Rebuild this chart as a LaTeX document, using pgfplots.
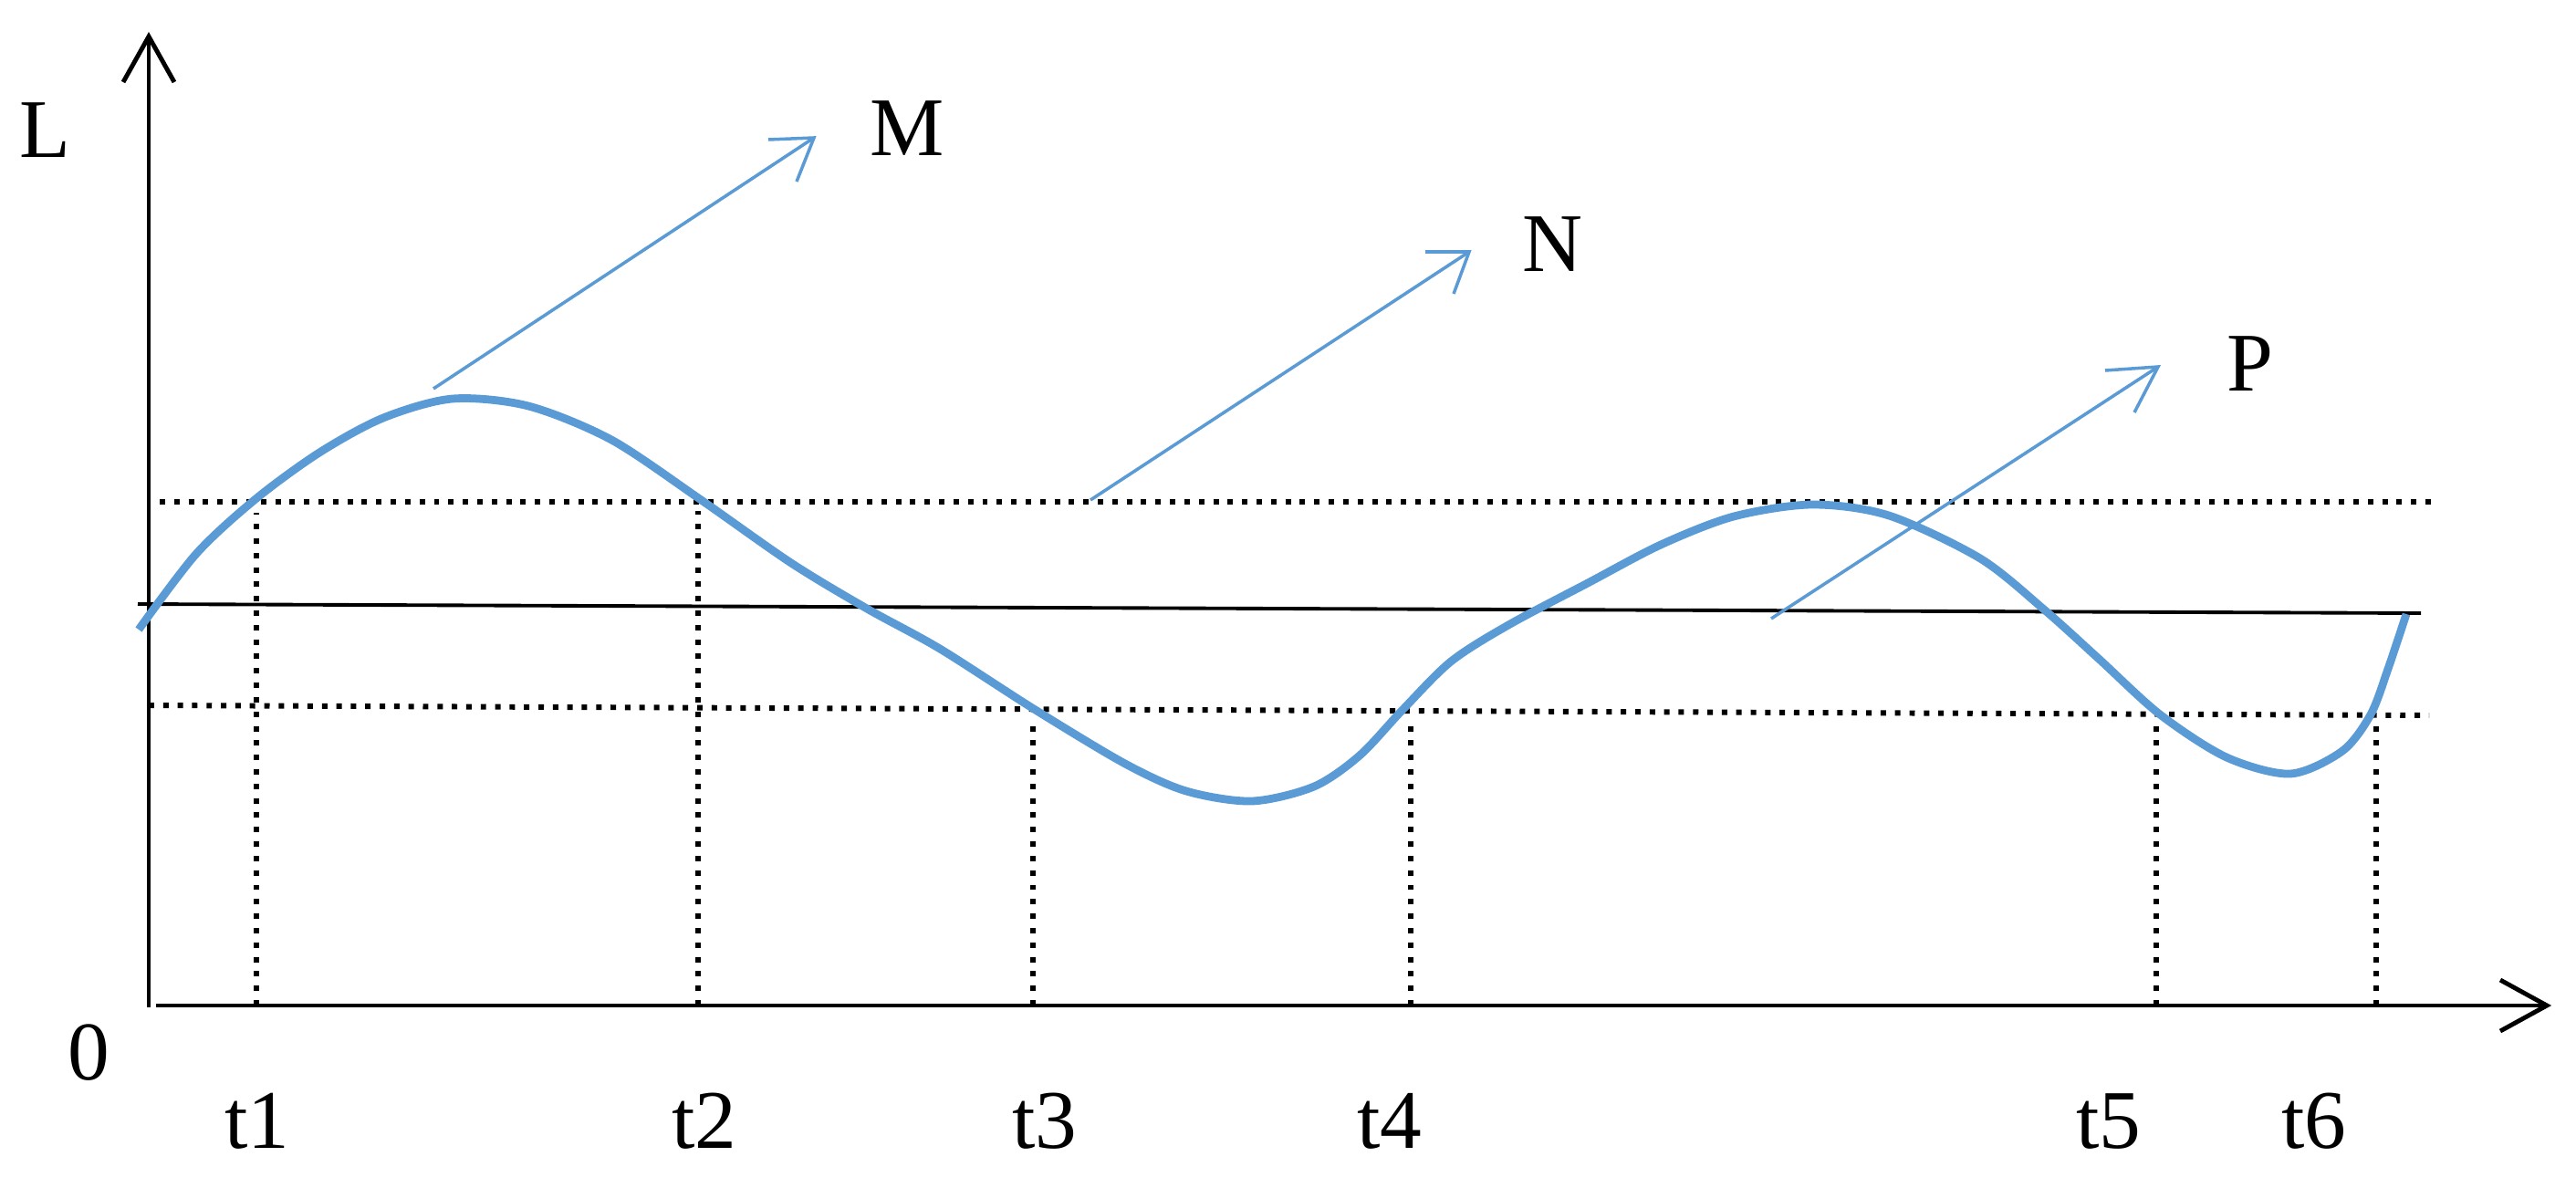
\documentclass[border=0pt]{standalone}
\usepackage{fontspec}
\setmainfont{Liberation Serif}
\usepackage{pgfplots}
\pgfplotsset{compat=1.18}

\definecolor{curveblue}{HTML}{5B9BD5}
\tikzset{lbl/.style={font=\fontsize{26}{30}\selectfont, anchor=base, inner sep=0pt}}
\pgfplotsset{dotln/.style={black, line width=1.7pt, dash pattern=on 1.7pt off 2.8pt}}

\begin{document}
\begin{tikzpicture}
\begin{axis}[
    scale only axis,
    width=28.23cm, height=13.02cm,
    xmin=0, xmax=2823, ymin=0, ymax=1302,
    y dir=reverse,
    hide axis,
    clip=false,
]
% page frame
\addplot[draw=none] coordinates {(0,0) (2823,1302)};

% axes
\addplot[black, line width=1.4pt] coordinates {(163,1104) (163,40)};
\addplot[black, line width=1.4pt, line join=miter] coordinates {(135,90) (163,40) (191,90)};
\addplot[black, line width=1.4pt] coordinates {(171,1102) (2791,1102)};
\addplot[black, line width=1.4pt, line join=miter] coordinates {(2740,1074) (2791,1102) (2740,1130)};

% reference levels
\addplot[black, line width=1.1pt] coordinates {(151,662) (2653,672)};
\addplot[dotln] coordinates {(175,550) (2673,550)};
\addplot[dotln] coordinates {(163,773) (2662,784)};

% drop lines
\addplot[dotln] coordinates {(281,1102) (281,562)};
\addplot[dotln] coordinates {(765,1102) (765,560)};
\addplot[dotln] coordinates {(1132,1102) (1132,792)};
\addplot[dotln] coordinates {(1546,1102) (1546,792)};
\addplot[dotln] coordinates {(2363,1102) (2363,796)};
\addplot[dotln] coordinates {(2604,1102) (2604,796)};

% curve
\addplot[curveblue, line width=2.5pt, smooth, line cap=butt] coordinates {
    (152,690) (215,607) (280,547) (350,496) (420,458) (496,437)
    (579,445) (670,482) (767,547) (867,617) (950,667) (1030,711)
    (1133,777) (1233,837) (1300,867) (1372,878) (1440,862) (1490,828)
    (1537,778) (1590,725) (1653,685) (1740,639) (1820,597) (1900,566)
    (1986,553) (2070,565) (2170,612) (2240,668) (2300,722)
    (2367,783) (2440,830) (2510,848) (2567,823) (2598,783) (2617,733) (2637,673)
};

% pointers
\addplot[curveblue, line width=1pt] coordinates {(475,426) (892,151)};
\addplot[curveblue, line width=1pt] coordinates {(842,153) (892,151) (873,199)};
\addplot[curveblue, line width=1pt] coordinates {(1195,548) (1610,276)};
\addplot[curveblue, line width=1pt] coordinates {(1562,276) (1610,276) (1593,322)};
\addplot[curveblue, line width=1pt] coordinates {(1941,678) (2365,402)};
\addplot[curveblue, line width=1pt] coordinates {(2307,406) (2365,402) (2339,452)};

% labels
\node[lbl] at (axis cs:49,172) {L};
\node[lbl] at (axis cs:97,1183) {0};
\node[lbl] at (axis cs:994,170) {M};
\node[lbl] at (axis cs:1701,297) {N};
\node[lbl] at (axis cs:2466,428) {P};
\node[lbl] at (axis cs:282,1258) {t1};
\node[lbl] at (axis cs:772,1258) {t2};
\node[lbl] at (axis cs:1145,1258) {t3};
\node[lbl] at (axis cs:1523,1258) {t4};
\node[lbl] at (axis cs:2311,1258) {t5};
\node[lbl] at (axis cs:2536,1258) {t6};
\end{axis}
\end{tikzpicture}
\end{document}
